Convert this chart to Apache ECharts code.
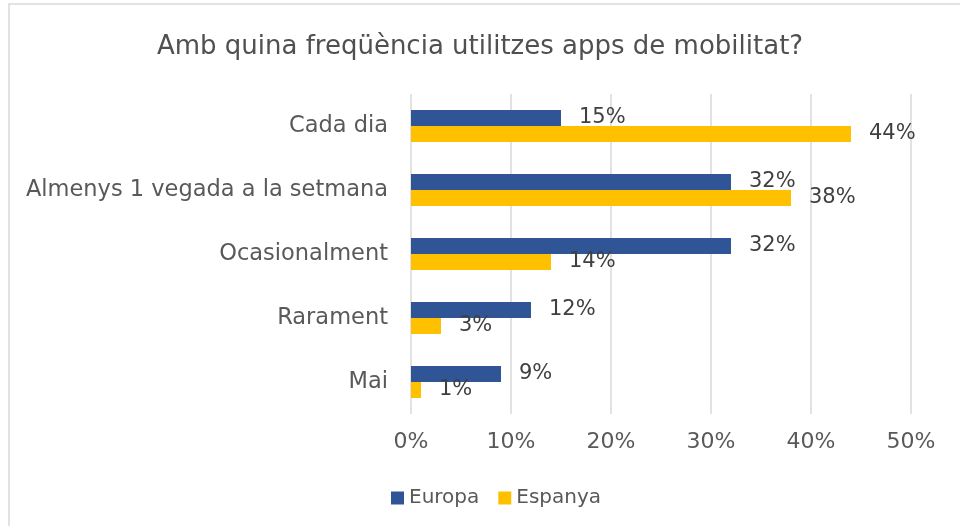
<!DOCTYPE html>
<html>
<head>
<meta charset="utf-8">
<script src="https://cdn.jsdelivr.net/npm/echarts@6/dist/echarts.min.js"></script>
<style>
  html, body { margin: 0; padding: 0; background: #fff; }
  #chart { width: 960px; height: 526px; }
</style>
</head>
<body>
<div id="chart"></div>
<script>
// categories, top to bottom
const categories = ['Cada dia', 'Almenys 1 vegada a la setmana', 'Ocasionalment', 'Rarament', 'Mai']
const europa = [15, 32, 32, 12, 9]
const espanya = [44, 38, 14, 3, 1]
const xTicks = [0, 10, 20, 30, 40, 50]

const font = 'DejaVu Sans'
const grey = '#595959'

const chart = echarts.init(document.getElementById('chart'))

const labelStyle = {
  show: true,
  position: 'right',
  distance: 18,
  color: '#404040',
  fontSize: 21,
  fontFamily: font,
  formatter: '{c}%'
}

chart.setOption({
  animation: false,
  textStyle: { fontFamily: font },
  graphic: [{
    type: 'rect',
    shape: { x: 9, y: 4, width: 1000, height: 600 },
    style: { fill: 'none', stroke: '#d9d9d9', lineWidth: 1.5 },
    silent: true
  }],
  title: {
    text: 'Amb quina freqüència utilitzes apps de mobilitat?',
    left: 'center',
    top: 29,
    textStyle: { color: '#505050', fontSize: 26, fontWeight: 'normal', fontFamily: font }
  },
  legend: {
    left: 386,
    top: 483,
    itemWidth: 13,
    itemHeight: 13,
    itemGap: 19,
    icon: 'rect',
    textStyle: { color: grey, fontSize: 20, fontFamily: font },
    data: ['Europa', 'Espanya']
  },
  grid: { left: 411, right: 49, top: 94, bottom: 112, containLabel: false },
  xAxis: {
    type: 'value',
    min: xTicks[0],
    max: xTicks[xTicks.length - 1],
    interval: 10,
    axisLine: { show: false },
    axisTick: { show: false },
    axisLabel: { color: grey, fontSize: 22, margin: 17, formatter: '{value}%' },
    splitLine: { lineStyle: { color: '#d9d9d9', width: 1.5 } }
  },
  yAxis: {
    type: 'category',
    data: categories,
    inverse: true,
    axisLine: { show: false },
    axisTick: { show: false },
    axisLabel: { color: grey, fontSize: 22.5, margin: 23 }
  },
  series: [
    {
      name: 'Europa',
      type: 'bar',
      barWidth: 16,
      barGap: '0%',
      itemStyle: { color: '#2f5597' },
      label: labelStyle,
      data: europa
    },
    {
      name: 'Espanya',
      type: 'bar',
      barWidth: 16,
      barGap: '0%',
      itemStyle: { color: '#ffc000' },
      label: labelStyle,
      data: espanya
    }
  ]
})
</script>
</body>
</html>
